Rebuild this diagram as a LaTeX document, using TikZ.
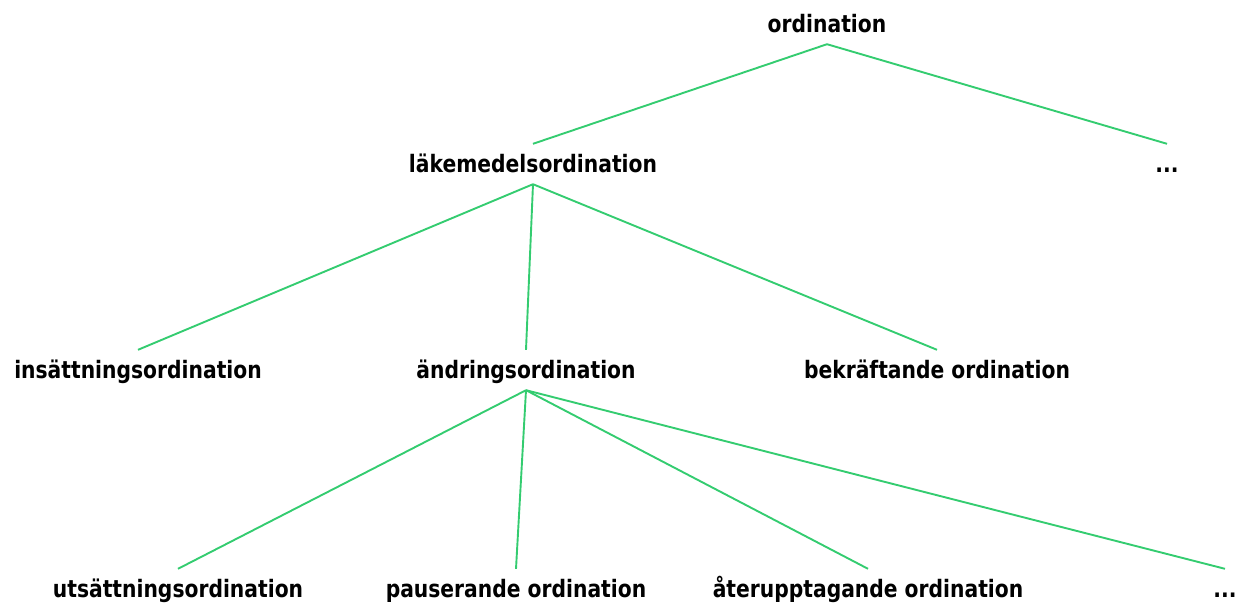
\documentclass[tikz,border=0pt]{standalone}
\usepackage{fontspec}
\setmainfont[FakeStretch=0.845]{DejaVu Sans}
\definecolor{linkgreen}{RGB}{52,204,112}

\begin{document}
\begin{tikzpicture}[x=1pt, y=-1pt,
    term/.style={font=\bfseries\fontsize{24}{28}\selectfont, anchor=base,
        inner xsep=0pt, inner ysep=4pt, text height=24pt, text depth=8pt},
    link/.style={draw=linkgreen, line width=1.9pt}]
        \useasboundingbox (0,0) rectangle (1239,603);
        % tree levels, placed at the text baselines
        \node[term] (ord) at (827, 32) {ordination};
        \node[term] (lakord) at (533, 172) {läkemedelsordination};
        \node[term] (more1) at (1167, 172) {...};
        \node[term] (ins) at (138, 378) {insättningsordination};
        \node[term] (andr) at (526, 378) {ändringsordination};
        \node[term] (bekr) at (937, 378) {bekräftande ordination};
        \node[term] (uts) at (178, 597) {utsättningsordination};
        \node[term] (paus) at (516, 597) {pauserande ordination};
        \node[term] (ater) at (868, 597) {återupptagande ordination};
        \node[term] (more2) at (1225, 597) {...};
        \draw[link] (ord.south) -- (lakord.north);
        \draw[link] (ord.south) -- (more1.north);
        \draw[link] (lakord.south) -- (ins.north);
        \draw[link] (lakord.south) -- (andr.north);
        \draw[link] (lakord.south) -- (bekr.north);
        \draw[link] (andr.south) -- (uts.north);
        \draw[link] (andr.south) -- (paus.north);
        \draw[link] (andr.south) -- (ater.north);
        \draw[link] (andr.south) -- (more2.north);
    \end{tikzpicture}
\end{document}
